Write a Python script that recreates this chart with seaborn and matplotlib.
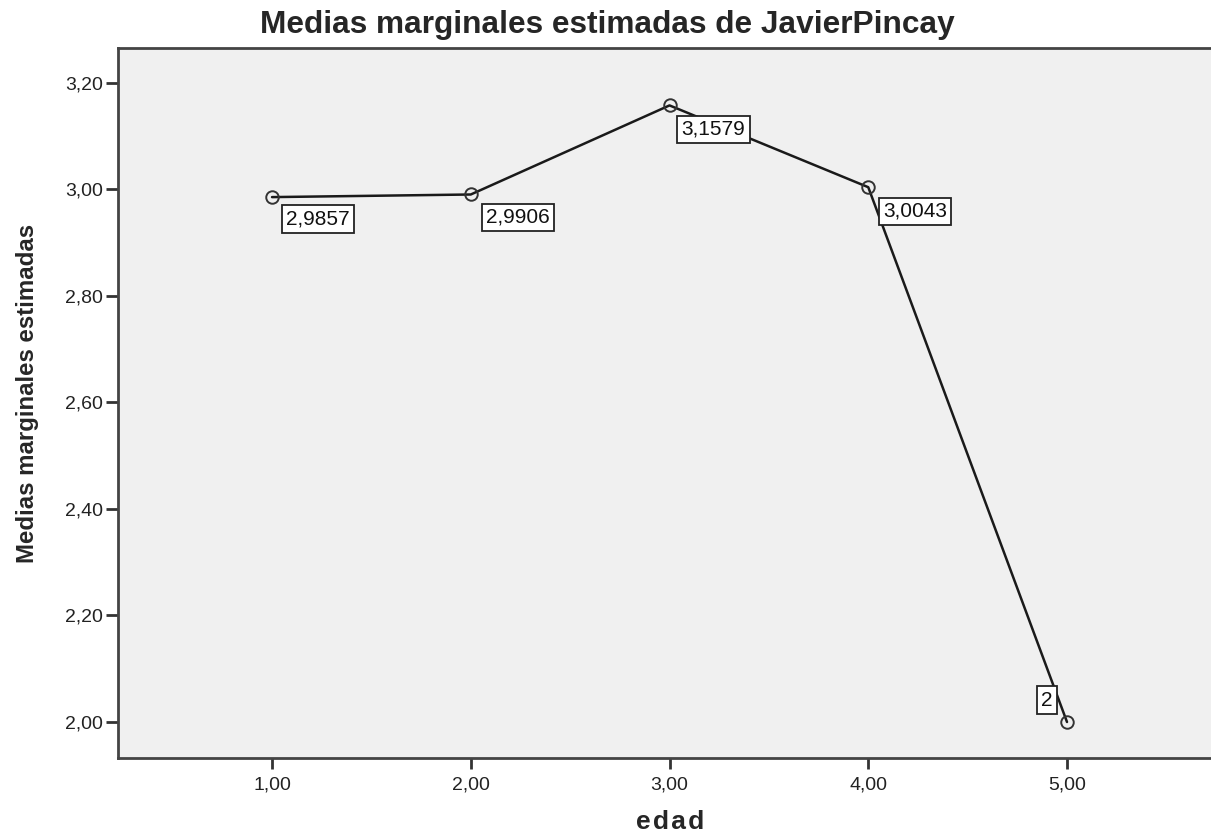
import matplotlib
matplotlib.use("Agg")
import matplotlib.pyplot as plt
import seaborn as sns
import pandas as pd
from matplotlib.ticker import FuncFormatter

# data
edad = [1.0, 2.0, 3.0, 4.0, 5.0]
medias = [2.9857, 2.9906, 3.1579, 3.0043, 2.0]
etiquetas = ["2,9857", "2,9906", "3,1579", "3,0043", "2"]

df = pd.DataFrame({"edad": edad, "media": medias})

sns.set_style("ticks")
plt.rcParams["font.family"] = ["Liberation Sans", "DejaVu Sans"]

fig = plt.figure(figsize=(12.11, 8.36), dpi=100)
ax = fig.add_axes([118 / 1211, 78 / 836, 1 - 118 / 1211, 710 / 836])
ax.set_facecolor("#f0f0f0")

sns.lineplot(
    data=df, x="edad", y="media", ax=ax,
    color="#1a1a1a", linewidth=1.8,
    marker="o", markersize=9, markerfacecolor="none",
    markeredgecolor="#333333", markeredgewidth=1.4,
)

# value boxes
offsets = [(46, -22), (47, -23), (44, -24), (47, -24), (-20, 22)]
for x, y, t, off in zip(edad, medias, etiquetas, offsets):
    ax.annotate(
        t, (x, y), xytext=off, textcoords="offset pixels",
        ha="center", va="center", fontsize=15, color="#111111",
        bbox=dict(boxstyle="square,pad=0.2", fc="white", ec="#222222", lw=1.3),
    )

ax.set_xlim(0.225, 5.7245)
ax.set_ylim(1.9324, 3.2657)
ax.set_xticks(edad)
ax.set_yticks([2.0, 2.2, 2.4, 2.6, 2.8, 3.0, 3.2])
fmt = FuncFormatter(lambda v, p: f"{v:.2f}".replace(".", ","))
ax.xaxis.set_major_formatter(fmt)
ax.yaxis.set_major_formatter(fmt)
ax.tick_params(axis="y", length=9, width=2, color="#333333", labelsize=14,
               labelcolor="#222222", pad=2)
ax.tick_params(axis="x", length=8, width=2, color="#333333", labelsize=14,
               labelcolor="#222222", pad=5)

for side in ["left", "bottom", "top"]:
    ax.spines[side].set_color("#444444")
    ax.spines[side].set_linewidth(2)
ax.spines["right"].set_visible(False)

ax.set_xlabel("")
ax.set_ylabel("")
fig.text(607 / 1211, 1 - 25 / 836, "Medias marginales estimadas de JavierPincay",
         ha="center", va="center", fontsize=22.8, fontweight="bold")
fig.text(670 / 1211, 1 - 822 / 836, "e d a d".replace(" ", "\u200a"),
         ha="center", va="center", fontsize=19, fontweight="bold")
fig.text(28 / 1211, 1 - 393 / 836, "Medias marginales estimadas",
         ha="center", va="center", rotation=90, fontsize=17.3, fontweight="bold")

fig.savefig("out.png", dpi=100)
